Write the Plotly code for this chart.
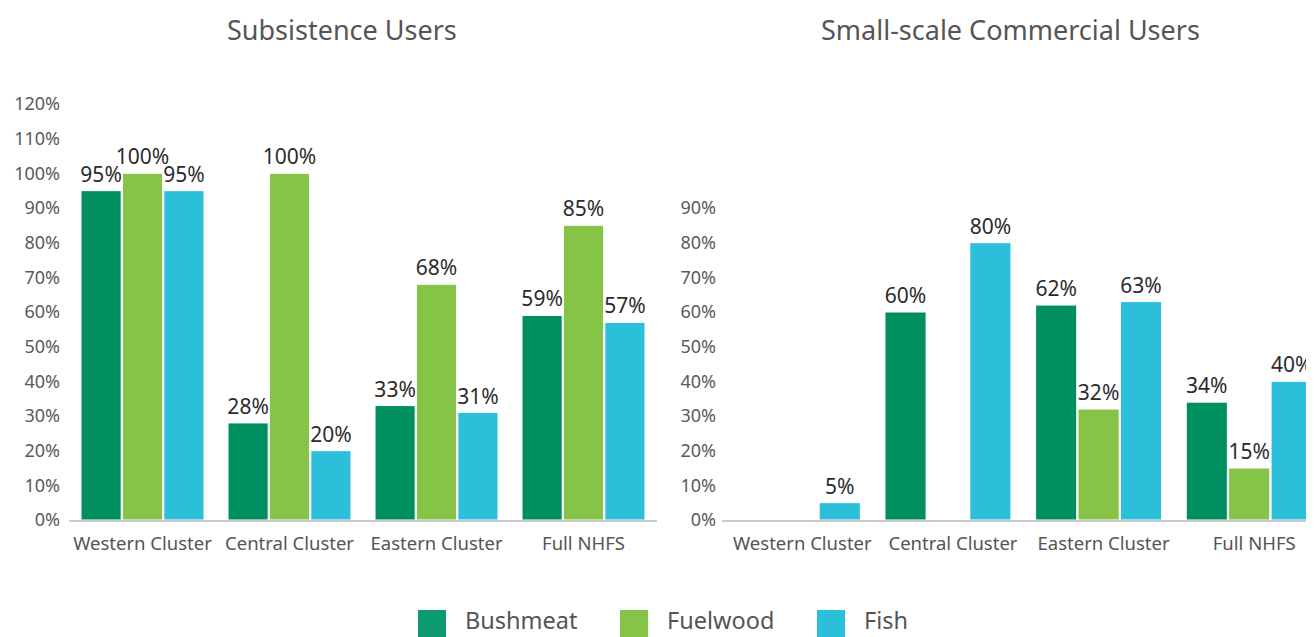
import plotly.graph_objects as go

categories = ["Western Cluster", "Central Cluster", "Eastern Cluster", "Full NHFS"]
series = ["Bushmeat", "Fuelwood", "Fish"]
colors = ["#008F60", "#86C447", "#2BBFDA"]
legend_colors = ["#0E9A70", "#86C447", "#2BBFDA"]

# values in percent, None = no bar
subsistence = {
    "Bushmeat": [95, 28, 33, 59],
    "Fuelwood": [100, 100, 68, 85],
    "Fish": [95, 20, 31, 57],
}
commercial = {
    "Bushmeat": [None, 60, 62, 34],
    "Fuelwood": [None, None, 32, 15],
    "Fish": [5, 80, 63, 40],
}

left_ticks = list(range(0, 121, 10))
right_ticks = list(range(0, 91, 10))

label_font = dict(family="Noto Sans", size=21, color="#2b2b2b")

fig = go.Figure()

for name, col in zip(series, colors):
    for data, xa, ya in [(subsistence, "x", "y"), (commercial, "x2", "y2")]:
        vals = data[name]
        fig.add_trace(go.Bar(
            x=categories, y=vals, name=name, xaxis=xa, yaxis=ya,
            marker=dict(color=col, line=dict(color="white", width=1)),
            text=[f"{v}%" if v else "" for v in vals],
            textposition="outside", textfont=label_font,
            constraintext="none", cliponaxis=False, showlegend=False,
        ))

tick_font = dict(family="Noto Sans", size=18, color="#5a5a5a")
cat_font = dict(family="Noto Sans", size=18.5, color="#555555")

# page body has an 8px margin, so the figure is sized to what is left
fig.update_layout(
    width=1306, height=629,
    margin=dict(l=61, r=0, t=96, b=117, autoexpand=False),
    paper_bgcolor="white", plot_bgcolor="white",
    barmode="group", bargap=0.155, bargroupgap=0.03,
    font=dict(family="Noto Sans", color="#555555"),
    xaxis=dict(domain=[0, 0.4723], range=[-0.5, 3.5], showline=True,
               linecolor="#cccccc", linewidth=2, tickfont=cat_font,
               ticks="", ticklabelstandoff=6, showgrid=False,
               automargin=False),
    xaxis2=dict(domain=[0.5245, 1], range=[-0.5, 3.43], showline=True,
                linecolor="#cccccc", linewidth=2, tickfont=cat_font,
                ticks="", ticklabelstandoff=6, ticklabelshift=5,
                showgrid=False, automargin=False),
    yaxis=dict(domain=[0, 1], range=[0, 120], tickvals=left_ticks,
               ticktext=[f"{t}%" for t in left_ticks], tickfont=tick_font,
               showgrid=False, zeroline=False, anchor="x", automargin=False,
               ticks="", ticklabelstandoff=8),
    yaxis2=dict(domain=[0, 0.75], range=[0, 90], tickvals=right_ticks,
                ticktext=[f"{t}%" for t in right_ticks], tickfont=tick_font,
                showgrid=False, zeroline=False, anchor="x2", automargin=False,
                ticks="", ticklabelstandoff=5),
)

title_font = dict(family="Noto Sans", size=27, color="#555555")
fig.add_annotation(text="Subsistence Users", x=0.2189, y=1.178, xref="paper",
                   yref="paper", xanchor="center", yanchor="middle",
                   showarrow=False, font=title_font)
fig.add_annotation(text="Small-scale Commercial Users", x=0.7562, y=1.178,
                   xref="paper", yref="paper", xanchor="center",
                   yanchor="middle", showarrow=False, font=title_font)

# custom legend with large squares
legend_x = [0.2803, 0.4426, 0.6008]
sq_w = 0.0225
for name, col, lx in zip(series, legend_colors, legend_x):
    fig.add_shape(type="rect", xref="paper", yref="paper",
                  x0=lx, x1=lx + sq_w, y0=-0.2813, y1=-0.2163,
                  fillcolor=col, line=dict(width=0))
    fig.add_annotation(text=name, x=lx + 0.0362, y=-0.2404,
                       xref="paper", yref="paper", xanchor="left",
                       yanchor="middle", showarrow=False,
                       font=dict(family="Noto Sans", size=23.5, color="#555555"))

fig.write_html("out.html")
